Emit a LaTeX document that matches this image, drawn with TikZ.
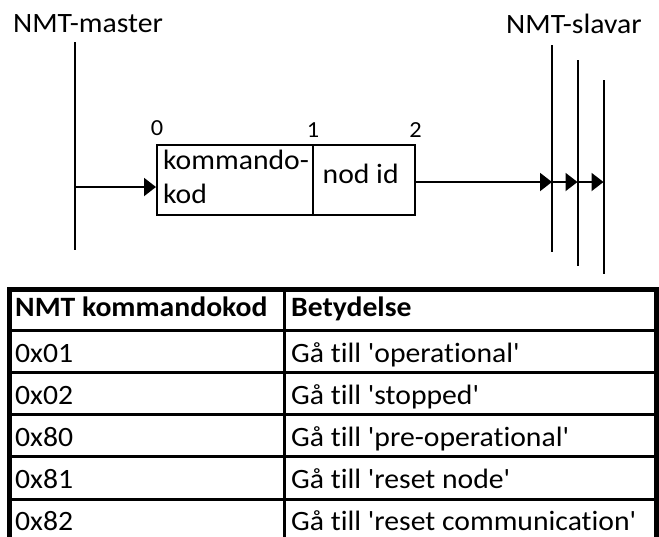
\documentclass[tikz,border=0pt]{standalone}
\usepackage{fontspec}
\setmainfont{Carlito}[Ligatures={TeXOff,NoCommon}, FakeStretch=1.06]
\usetikzlibrary{arrows.meta}
\begin{document}
\begin{tikzpicture}[x=1pt,y=-1pt,
  lbl/.style={inner sep=0pt, anchor=base west, font=\fontsize{28}{33}\selectfont},
  hdr/.style={lbl, font=\fontsize{28}{33}\selectfont\bfseries},
  idx/.style={inner sep=0pt, anchor=base, font=\fontsize{23}{27}\selectfont},
  field/.style={draw, line width=2pt, inner sep=0pt},
  bus/.style={line width=2pt},
  sig/.style={line width=2pt, -{Triangle[length=12pt,width=18pt]}},
  grid/.style={line width=3pt},
  frame/.style={line width=5pt}
]
\useasboundingbox (0,0) rectangle (659,536);

% --- bus participants ---
\node[lbl] (master) at (13,32) {NMT-master};
\node[lbl] (slaves) at (506,33) {NMT-slavar};

\coordinate (m0) at (75,42);
\coordinate (m1) at (75,250);
\draw[bus] (m0) -- (m1);

\coordinate (s1a) at (552,45);   \coordinate (s1b) at (552,252);
\coordinate (s2a) at (577.5,60); \coordinate (s2b) at (577.5,266);
\coordinate (s3a) at (603.5,80); \coordinate (s3b) at (603.5,274);
\draw[bus] (s1a) -- (s1b);
\draw[bus] (s2a) -- (s2b);
\draw[bus] (s3a) -- (s3b);

% --- NMT frame: two data bytes ---
\node[field, minimum width=156pt, minimum height=70pt] (cmd) at (235,180) {};
\node[field, minimum width=102pt, minimum height=70pt] (nid) at (364,180) {};

\node[lbl] (cmdtxt1) at (163,169.5) {kommando-};
\node[lbl] (cmdtxt2) at (163,203) {kod};
\node[lbl] (nidtxt) at (322.5,183.5) {nod id};

\node[idx] (b0) at (157,135) {0};
\node[idx] (b1) at (313,137) {1};
\node[idx] (b2) at (415.5,137) {2};

% --- transmission from master to all slaves ---
\coordinate (tx) at (75,187);
\draw[sig] (tx) -- (cmd.west |- tx);

\coordinate (rx) at (415,182);
\draw[sig] (rx) -- (s1a |- rx);
\draw[sig] (s1a |- rx) -- (s2a |- rx);
\draw[sig] (s2a |- rx) -- (s3a |- rx);

% --- command table ---
\coordinate (tl) at (9.5,289.5);
\coordinate (br) at (656.5,545);
\coordinate (col) at (284,289.5);
\draw[grid] (col) -- (col |- br);
\foreach \y in {330,372.25,414.5,456.75,499} {
  \draw[grid] (tl |- 0,\y) -- (br |- 0,\y);
}
\draw[frame] (tl) rectangle (br);

\node[hdr] (h1) at (15,316) {NMT kommandokod};
\node[hdr] (h2) at (291,316) {Betydelse};

\node[lbl] (c1) at (15,362)    {0x01};
\node[lbl] (d1) at (291,362)   {Gå till 'operational'};
\node[lbl] (c2) at (15,404.25) {0x02};
\node[lbl] (d2) at (291,404.25){Gå till 'stopped'};
\node[lbl] (c3) at (15,446.5)  {0x80};
\node[lbl] (d3) at (291,446.5) {Gå till 'pre-operational'};
\node[lbl] (c4) at (15,488.75) {0x81};
\node[lbl] (d4) at (291,488.75){Gå till 'reset node'};
\node[lbl] (c5) at (15,530)    {0x82};
\node[lbl] (d5) at (291,530)   {Gå till 'reset communication'};
\end{tikzpicture}
\end{document}
